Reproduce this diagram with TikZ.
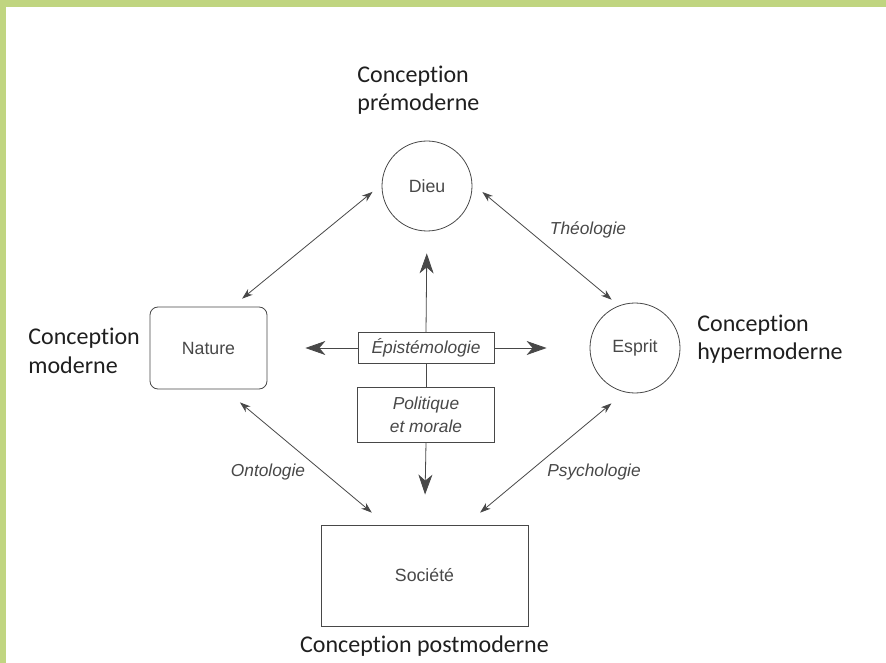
\documentclass[tikz,border=0pt]{standalone}
\usepackage{fontspec}
\setmainfont{Liberation Sans}
\newfontfamily\calibri[Ligatures={NoCommon,NoRare,NoContextual}]{Carlito}
\usetikzlibrary{arrows.meta,positioning}
\definecolor{leaf}{RGB}{192,213,128}
\definecolor{ink}{RGB}{72,72,72}

\begin{document}
\begin{tikzpicture}[x=0.75pt,y=-0.75pt,>={Stealth[length=8pt,width=5.5pt,inset=2.5pt]},line width=0.6pt,
    every node/.style={text=ink,font=\fontsize{13.3}{16}\selectfont},
    round node/.style={circle,draw=ink,minimum size=67.5pt,inner sep=0pt},
    box node/.style={rectangle,draw=ink,inner sep=0pt},
    topic/.style={font=\fontsize{13}{17}\selectfont\itshape},
    concept/.style={text=black!88,font=\calibri\fontsize{18}{21}\selectfont,align=left,inner sep=0pt},
    link/.style={draw=ink,<->},
    big/.style={draw=ink,-{Stealth[length=15pt,width=10.5pt,inset=4.5pt]}}]

    % frame
    \fill[leaf] (0,0) rectangle (886,663);
    \fill[white] (6,7) rectangle (886,663);
    \useasboundingbox (0,0) rectangle (886,663);

    \node[round node] (d) at (427,186) {Dieu};
    \node[round node] (e) at (635,348) {Esprit};
    \node[box node,rounded corners=6pt,minimum width=87.75pt,minimum height=61.5pt] (n) at (208.5,348) {Nature};
    \node[box node,minimum width=155.25pt,minimum height=75.75pt] (s) at (424.5,575.5) {Société};
    \node[box node,topic,minimum width=102pt,minimum height=23.25pt] (ep) at (426,348) {Épistémologie};
    \node[box node,topic,align=center,minimum width=102.75pt,minimum height=41.25pt] (pm) at (426,414.5) {Politique\\et morale};

    \node[topic] (th) at (588,230) {Théologie};
    \node[topic] (on) at (268,472) {Ontologie};
    \node[topic] (ps) at (594,472) {Psychologie};

    \node[concept,anchor=base west] (c1) at (357,111) {Conception\\prémoderne};
    \node[concept,anchor=base west] (c2) at (28,373) {Conception\\moderne};
    \node[concept,anchor=base west] (c3) at (697,359) {Conception\\hypermoderne};
    \node[concept] (c4)[below=7pt of s] {Conception postmoderne};

    \path
        (d.178) edge[link,shorten <=8.8pt,shorten >=9.4pt] (n.60)
        (d.3) edge[link,shorten <=9.8pt,shorten >=6.9pt] (e.111)
        (n.291) edge[link,shorten <=15.2pt,shorten >=14pt] (s.127)
        (e.257) edge[link,shorten <=13pt,shorten >=14pt] (s.51)
        ;

    \path
        (ep.north) edge[big,shorten >=16.5pt] (d.south)
        (ep.west) edge[big,shorten >=28.5pt] (n.east)
        (ep.east) edge[big,shorten >=32.25pt] (e.west)
        (pm.south) edge[big,shorten >=22.5pt] (s.north)
        ;
    \draw[ink] (ep) -- (pm);
\end{tikzpicture}
\end{document}
